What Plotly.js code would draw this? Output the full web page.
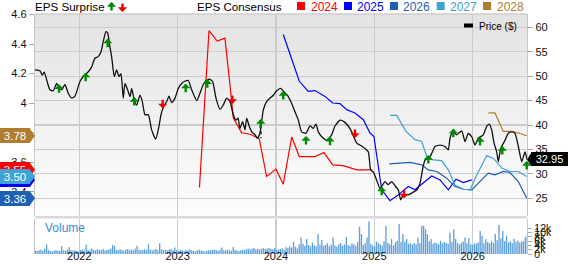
<!DOCTYPE html>
<html><head><meta charset="utf-8">
<script src="https://cdn.plot.ly/plotly-3.0.1.min.js"></script>
<style>html,body{margin:0;padding:0;background:#fff}#chart{width:568px;height:264px}</style>
</head><body><div id="chart"></div>
<script>
// ---------------- DATA (x values are decimal years) ----------------
const yearTicks = [2022, 2023, 2024, 2025, 2026];
const yearLabels = ['2022', '2023', '2024', '2025', '2026'];

const priceX = [2021.550,2021.600,2021.624,2021.644,2021.679,2021.702,2021.736,2021.770,2021.794,2021.821,
2021.855,2021.888,2021.923,2021.956,2022.007,2022.041,2022.092,2022.126,2022.160,2022.193,
2022.221,2022.244,2022.271,2022.289,2022.312,2022.329,2022.356,2022.380,2022.404,2022.424,
2022.447,2022.465,2022.492,2022.516,2022.533,2022.559,2022.584,2022.617,2022.641,2022.668,
2022.702,2022.736,2022.777,2022.810,2022.831,2022.854,2022.889,2022.912,2022.940,2022.973,
2023.007,2023.041,2023.068,2023.108,2023.143,2023.194,2023.227,2023.261,2023.288,2023.322,
2023.356,2023.390,2023.431,2023.464,2023.499,2023.532,2023.566,2023.593,2023.614,2023.634,
2023.661,2023.685,2023.702,2023.729,2023.753,2023.787,2023.810,2023.837,2023.871,2023.905,
2023.939,2023.973,2024.007,2024.048,2024.081,2024.115,2024.160,2024.193,2024.227,2024.261,
2024.305,2024.346,2024.379,2024.407,2024.430,2024.481,2024.516,2024.566,2024.600,2024.651,
2024.691,2024.735,2024.770,2024.821,2024.871,2024.905,2024.939,2024.963,2024.989,2025.024,
2025.058,2025.108,2025.139,2025.176,2025.210,2025.244,2025.268,2025.294,2025.345,2025.383,
2025.431,2025.464,2025.492,2025.515,2025.566,2025.617,2025.668,2025.718,2025.752,2025.769,
2025.797,2025.837,2025.888,2025.922,2025.955,2025.990,2026.024,2026.057,2026.108,2026.142,
2026.169,2026.193,2026.217,2026.244,2026.260,2026.285,2026.329,2026.362,2026.397,2026.430,
2026.464,2026.498,2026.532,2026.552];
const priceY = [51.3,51.1,50.2,50.8,48.5,47.2,47.0,48.5,47.8,47.2,
48.3,46.5,45.5,45.9,48.9,49.9,50.9,51.9,53.7,54.0,
55.0,57.1,59.1,58.8,56.0,54.0,49.9,51.3,49.9,50.5,
45.5,48.5,47.2,45.8,47.5,45.1,44.1,46.1,44.8,42.1,
42.1,39.0,37.1,39.7,42.1,43.6,44.8,45.9,44.6,45.5,
47.5,48.5,48.9,49.1,47.2,45.0,46.5,48.3,49.0,49.4,
48.9,45.5,43.2,44.1,45.5,44.8,42.1,41.0,41.4,39.3,
40.7,39.0,41.4,39.7,38.6,38.0,37.3,38.3,43.1,44.8,
45.5,46.1,47.0,47.5,46.8,46.1,44.4,42.7,41.0,38.6,
38.3,39.8,39.3,40.2,38.6,37.3,36.9,38.0,39.8,41.0,
40.7,39.8,38.6,36.3,35.7,35.2,34.5,30.8,30.4,28.7,
27.0,28.4,27.8,28.4,27.6,26.7,24.7,25.7,25.7,26.1,
26.7,28.1,31.1,32.8,33.5,35.6,35.9,35.6,34.9,37.3,
38.6,38.0,38.8,36.6,38.3,37.6,35.9,37.3,38.0,39.7,
40.2,39.0,36.3,34.5,32.5,35.2,36.9,38.3,38.6,38.3,
35.6,32.5,34.5,32.95];

const seriesNames = ['2024', '2025', '2026', '2027', '2028'];
const seriesColors = ['#ff0000', '#0000ff', '#1f5fb4', '#3fa3d6', '#b07d2e'];

const eps2024X = [2023.222,2023.319,2023.403,2023.481,2023.532,2023.566,2023.651,2023.736,2023.786,2023.830,
2023.905,2024.000,2024.074,2024.160,2024.237,2024.397,2024.488,2024.577,2024.684,2024.821,2024.905,2024.973];
const eps2024Y = [3.43,4.49,4.42,4.44,4.125,3.90,3.80,3.79,3.775,3.757,
3.504,3.554,3.452,3.771,3.639,3.639,3.666,3.583,3.578,3.549,3.549,3.55];

const eps2025X = [2024.074,2024.237,2024.328,2024.397,2024.498,2024.577,2024.651,2024.719,2024.803,2024.888,
2024.956,2024.996,2025.075,2025.159,2025.244,2025.345,2025.413,2025.498,2025.583,2025.668,2025.752,2025.830,2025.905,2025.990];
const eps2025Y = [4.464,4.148,4.08,4.085,4.046,4.001,3.997,3.956,3.934,3.888,
3.798,3.775,3.414,3.341,3.38,3.436,3.414,3.459,3.508,3.481,3.414,3.486,3.463,3.481];

const eps2026X = [2025.152,2025.261,2025.363,2025.482,2025.549,2025.634,2025.736,2025.820,2025.905,2025.990,
2026.074,2026.159,2026.227,2026.311,2026.379,2026.464,2026.549];
const eps2026Y = [3.59,3.595,3.599,3.583,3.549,3.538,3.493,3.436,3.418,3.414,
3.47,3.527,3.515,3.538,3.531,3.47,3.357];

const eps2027X = [2025.159,2025.227,2025.322,2025.413,2025.482,2025.539,2025.600,2025.685,2025.752,2025.820,
2025.905,2025.973,2026.041,2026.142,2026.210,2026.295,2026.379,2026.464,2026.549];
const eps2027Y = [3.917,3.917,3.809,3.753,3.741,3.628,3.617,3.612,3.549,3.447,
3.418,3.414,3.515,3.644,3.628,3.561,3.538,3.538,3.504];

const eps2028X = [2026.159,2026.227,2026.311,2026.397,2026.464,2026.549];
const eps2028Y = [3.934,3.934,3.809,3.809,3.798,3.78];

// EPS surprise markers: position on the price line (tip of arrow), direction
const surpriseX = [2021.794,2022.065,2022.289,2022.559,2022.848,2023.082,2023.302,2023.556,2023.845,2024.074,
2024.305,2024.549,2024.803,2025.075,2025.302,2025.549,2025.803,2026.074,2026.301,2026.549];
const surpriseY = [48.33,50.71,57.67,45.73,43.42,48.46,49.36,44.3,41.23,46.96,
37.75,37.61,37.34,27.38,25.0,33.86,39.25,37.55,35.71,32.64];
const surpriseDir = ['up','up','up','up','down','up','up','down','up','up',
'up','up','down','up','down','up','up','up','up','up'];
const surpriseDashedIdx = [8];
const surpriseDashedTail = [37.3];

// weekly volume (thousands)
const volStart = 2021.553;
const volStep = 7 / 365.25;
const volK = [1.6,1.4,1.8,2.0,1.5,2.4,4.6,1.9,1.4,1.2,
1.5,1.9,1.4,1.6,3.7,1.8,1.5,2.1,3.3,1.7,
1.6,1.8,1.4,1.2,1.9,2.2,1.8,4.3,2.0,1.6,
2.4,1.9,1.7,2.2,2.0,1.8,2.3,1.6,1.9,2.1,
2.5,4.2,3.8,2.0,1.7,2.2,1.9,1.5,2.0,2.3,
1.8,2.1,1.6,2.4,3.8,2.0,1.7,1.9,2.2,1.8,
4.6,2.1,1.6,2.0,2.3,1.7,5.0,2.2,1.8,2.0,
1.6,2.1,2.4,1.9,3.0,1.8,1.5,2.0,1.7,1.4,
1.9,1.6,2.2,1.8,1.5,1.3,1.7,2.0,1.6,1.4,
1.2,1.5,1.8,1.6,1.9,2.1,1.7,1.5,2.0,3.0,
1.8,1.6,2.0,1.7,1.5,3.3,1.9,1.6,1.4,1.8,
2.0,1.7,2.2,2.6,2.0,2.4,2.8,2.2,2.5,2.0,
2.4,2.7,2.3,2.6,2.9,2.5,2.2,2.8,1.9,2.1,
2.3,2.6,2.0,3.2,2.8,3.6,3.0,5.7,3.4,2.6,
4.4,7.7,4.8,3.9,7.0,4.2,3.5,5.4,4.0,3.6,
9.3,4.5,6.5,3.8,4.2,5.0,3.6,4.4,7.7,4.0,
3.5,4.6,5.2,3.8,4.4,8.0,4.2,3.9,5.0,4.6,
3.8,5.5,12.7,9.3,4.2,5.0,7.7,15.2,4.8,4.0,
3.6,5.9,5.0,4.4,4.0,6.0,13.2,5.2,4.6,7.0,
4.0,5.4,6.2,14.0,5.6,9.3,5.8,7.0,4.8,5.0,
4.4,5.2,4.6,7.7,5.0,13.2,13.2,11.6,9.3,6.0,
7.0,4.8,5.4,5.0,4.6,6.2,5.0,5.6,5.2,4.8,
10.0,5.6,11.6,7.0,5.0,4.6,5.2,5.8,7.7,5.0,
7.4,4.6,4.2,5.0,4.8,5.4,10.8,8.5,5.0,7.0,
5.6,5.0,6.0,5.2,9.3,6.4,13.7,7.2,10.8,6.0,
8.5,5.4,6.0,5.0,7.0,5.6,6.2,5.4,5.8,6.0,
7.8,9.3];
const volTickVals = [0, 2, 4, 6, 8, 10, 12];
const volTickText = ['0', '2k', '4k', '6k', '8k', '10k', '12k'];
const priceTicks = [25, 30, 35, 40, 45, 50, 55, 60];

// ---------------- LAYOUT HELPERS ----------------
const FONT = 'Arial, "Liberation Sans", sans-serif';
const W = 568, H = 264, ML = 35, MR = 41, MT = 14, MB = 10;
const PL = ML, PR = W - MR, PT = MT, PB = H - MB;
const px = v => (v - PL) / (PR - PL);
const py = v => (PB - v) / (PB - PT);
const mainDomain = [py(216), 1];
const volDomain = [0, py(218.5)];

const volX = volK.map((_, i) => volStart + i * volStep);
const epsX = [eps2024X, eps2025X, eps2026X, eps2027X, eps2028X];
const epsY = [eps2024Y, eps2025Y, eps2026Y, eps2027Y, eps2028Y];

const traces = [];
traces.push({type: 'bar', x: volX, y: volK, xaxis: 'x', yaxis: 'y3',
  marker: {color: '#5c9fdb', line: {width: 0}}, hoverinfo: 'skip'});
for (let s = 0; s < 5; s++) {
  traces.push({type: 'scatter', mode: 'lines', x: epsX[s], y: epsY[s], xaxis: 'x', yaxis: 'y',
    line: {color: seriesColors[s], width: 1.2}, hoverinfo: 'skip'});
}
surpriseDashedIdx.forEach((idx, k) => {
  traces.push({type: 'scatter', mode: 'lines', x: [surpriseX[idx], surpriseX[idx]],
    y: [surpriseY[idx] - 1.3, surpriseDashedTail[k]], xaxis: 'x', yaxis: 'y2',
    line: {color: '#008a00', width: 2.4, dash: 'dot'}, hoverinfo: 'skip'});
});
traces.push({type: 'scatter', mode: 'lines', x: priceX, y: priceY, xaxis: 'x', yaxis: 'y2',
  line: {color: '#111111', width: 1.3, shape: 'spline', smoothing: 0.5}, hoverinfo: 'skip'});

const shapes = [];
// background gradient of main panel
const N = 40;
for (let i = 0; i < N; i++) {
  const t0 = i / N, t1 = (i + 1) / N;
  const g = Math.round(253 - 26 * ((t0 + t1) / 2));
  shapes.push({type: 'rect', xref: 'paper', yref: 'paper', x0: 0, x1: 1,
    y0: mainDomain[0] + (1 - mainDomain[0]) * t0, y1: mainDomain[0] + (1 - mainDomain[0]) * t1 + 0.002,
    fillcolor: `rgb(${g},${g},${g})`, line: {width: 0}, layer: 'below'});
}
// borders
shapes.push({type: 'line', xref: 'paper', yref: 'paper', x0: 0, x1: 1, y0: 1, y1: 1,
  line: {color: '#c6c6c6', width: 1.2}, layer: 'above'});
shapes.push({type: 'line', xref: 'paper', yref: 'paper', x0: 0, x1: 1, y0: py(217.3), y1: py(217.3),
  line: {color: '#dadada', width: 2.5}, layer: 'above'});

const annotations = [];
// badges on the left (last consensus value of each year)
for (let s = 0; s < 5; s++) {
  const v = epsY[s][epsY[s].length - 1];
  annotations.push({xref: 'paper', x: 0, xanchor: 'right', xshift: -5, yref: 'y', y: v, yanchor: 'middle',
    text: v.toFixed(2), showarrow: false, bgcolor: seriesColors[s], width: 30, height: 15,
    borderpad: 0, borderwidth: 0, font: {family: FONT, size: 11.5, color: '#ffffff'}});
  shapes.push({type: 'path', xref: 'paper', xsizemode: 'pixel', xanchor: 0, yref: 'y', ysizemode: 'pixel',
    yanchor: v, path: 'M-5.5,-7.5L0,0L-5.5,7.5Z', fillcolor: seriesColors[s], line: {width: 0}, layer: 'above'});
}
// last price label
const lastPrice = priceY[priceY.length - 1];
annotations.push({xref: 'paper', x: 1, xanchor: 'left', xshift: 4, yref: 'y2', y: lastPrice, yanchor: 'middle',
  text: lastPrice.toFixed(2), showarrow: false, bgcolor: '#000000', width: 37, height: 14,
  borderpad: 0, borderwidth: 0, font: {family: FONT, size: 11, color: '#ffffff'}});
shapes.push({type: 'path', xref: 'paper', xsizemode: 'pixel', xanchor: 1, yref: 'y2', ysizemode: 'pixel',
  yanchor: lastPrice, path: 'M0,0L4.5,-7L4.5,7Z', fillcolor: '#000000', line: {width: 0}, layer: 'above'});

// surprise arrows
surpriseX.forEach((x, i) => {
  const up = surpriseDir[i] === 'up';
  annotations.push({xref: 'x', yref: 'y2', x: x, y: surpriseY[i], text: '', showarrow: true,
    arrowhead: 1, arrowsize: 0.65, arrowwidth: 2.4, arrowcolor: up ? '#008a00' : '#ee0000',
    ax: 0, ay: up ? 10 : -10, standoff: 0});
});

// top legend
annotations.push({xref: 'paper', yref: 'paper', x: px(35), y: py(6.5), xanchor: 'left', yanchor: 'middle',
  text: 'EPS Surprise', showarrow: false, borderpad: 0, borderwidth: 0, font: {family: FONT, size: 11.6, color: '#000'}});
annotations.push({xref: 'paper', yref: 'paper', x: px(111.5), y: py(2), text: '', showarrow: true,
  arrowhead: 1, arrowsize: 0.65, arrowwidth: 2.4, arrowcolor: '#008a00', ax: 0, ay: 10, standoff: 0});
annotations.push({xref: 'paper', yref: 'paper', x: px(122.5), y: py(12), text: '', showarrow: true,
  arrowhead: 1, arrowsize: 0.65, arrowwidth: 2.4, arrowcolor: '#ee0000', ax: 0, ay: -10, standoff: 0});
annotations.push({xref: 'paper', yref: 'paper', x: px(196.5), y: py(6.5), xanchor: 'left', yanchor: 'middle',
  text: 'EPS Consensus', showarrow: false, borderpad: 0, borderwidth: 0, font: {family: FONT, size: 11.6, color: '#000'}});
const legSqX = [297, 344, 390, 436.7, 483];
const legTxtX = [310.5, 356.5, 403, 450, 496.5];
for (let s = 0; s < 5; s++) {
  shapes.push({type: 'rect', xref: 'paper', yref: 'paper', x0: px(legSqX[s]), x1: px(legSqX[s] + 8),
    y0: py(10), y1: py(2), fillcolor: seriesColors[s], line: {width: 0}});
  annotations.push({xref: 'paper', yref: 'paper', x: px(legTxtX[s]), y: py(6.5), xanchor: 'left', yanchor: 'middle',
    text: seriesNames[s], showarrow: false, borderpad: 0, borderwidth: 0,
    font: {family: FONT, size: 12, color: seriesColors[s]}});
}
// price legend
shapes.push({type: 'rect', xref: 'paper', yref: 'paper', x0: px(464), x1: px(473), y0: py(27.5), y1: py(23.5),
  fillcolor: '#000', line: {width: 0}, layer: 'above'});
annotations.push({xref: 'paper', yref: 'paper', x: px(478.5), y: py(26), xanchor: 'left', yanchor: 'middle',
  text: 'Price ($)', showarrow: false, borderpad: 0, borderwidth: 0, font: {family: FONT, size: 10, color: '#000'}});
// volume label
annotations.push({xref: 'paper', yref: 'paper', x: px(45), y: py(228), xanchor: 'left', yanchor: 'middle',
  text: 'Volume', showarrow: false, borderpad: 0, borderwidth: 0, font: {family: FONT, size: 12, color: '#3a8ed2'}});

const layout = {
  width: W, height: H, margin: {l: ML, r: MR, t: MT, b: MB, pad: 0},
  paper_bgcolor: '#ffffff', plot_bgcolor: '#ffffff', showlegend: false,
  font: {family: FONT, size: 11, color: '#222'},
  bargap: 0.3,
  xaxis: {range: [2021.550, 2026.552], tickvals: yearTicks, ticktext: yearLabels, anchor: 'y3',
    showgrid: true, gridcolor: '#cccccc', gridwidth: 1.2, ticks: '', zeroline: false, showline: false,
    ticklabelstandoff: -6,
    tickfont: {family: FONT, size: 11, color: '#111'}, fixedrange: true},
  yaxis: {domain: mainDomain, range: [3.237, 4.603], tick0: 4, dtick: 0.2, side: 'left',
    ticks: 'outside', ticklen: 5, tickcolor: '#aaaaaa', showgrid: false, zeroline: false,
    showline: true, linecolor: '#c6c6c6', linewidth: 1.2,
    tickfont: {family: FONT, size: 11, color: '#111'}, fixedrange: true},
  yaxis2: {overlaying: 'y', side: 'right', range: [21.38, 62.72], tickvals: priceTicks,
    ticks: 'outside', ticklen: 5, tickcolor: '#aaaaaa', showgrid: true, gridcolor: '#cccccc', gridwidth: 1.2,
    zeroline: false, showline: true, linecolor: '#c6c6c6', linewidth: 1.2,
    tickfont: {family: FONT, size: 11, color: '#111'}, fixedrange: true},
  yaxis3: {domain: volDomain, range: [0, 16.6], side: 'right', tickvals: volTickVals, ticktext: volTickText,
    ticks: 'outside', ticklen: 4, tickcolor: '#aaaaaa', showgrid: false, zeroline: false,
    showline: true, mirror: true, linecolor: '#c6c6c6', linewidth: 1.2,
    tickfont: {family: FONT, size: 10.5, color: '#111'}, fixedrange: true},
  shapes: shapes,
  annotations: annotations
};

Plotly.newPlot('chart', traces, layout, {displayModeBar: false, staticPlot: true});
</script>
</body></html>
